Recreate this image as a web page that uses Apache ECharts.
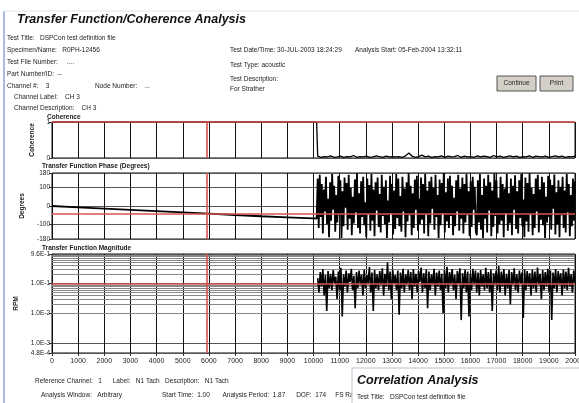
<!DOCTYPE html>
<html><head><meta charset="utf-8">
<script src="https://cdn.jsdelivr.net/npm/echarts@6/dist/echarts.min.js"></script>
<style>html,body{margin:0;padding:0;background:#fff}#c{width:579px;height:403px}</style>
</head><body><div id="c"></div>
<script>
// ---- data ----
const rampFreq = [0, 1000, 2000, 3000, 4000, 5000, 6000, 7000, 8000, 9000, 10000, 10120];
const coherenceRamp = [1, 1, 1, 1, 1, 1, 1, 1, 1, 1, 1, 0.99];
const phaseRamp = [0, -7, -14, -21, -28, -35, -42, -49, -56, -62, -68, -69];
const noiseStart = 10160, noiseEnd = 20000;
const coherenceNoise = [0.05,0.02,0.04,0.03,0.06,0.02,0.03,0.05,0.02,0.04,0.03,0.07,0.02,0.04,0.03,0.05,0.02,0.03,0.06,0.04,0.02,0.05,0.03,0.04,0.03,0.04,0.02,0.06,0.14,0.05,0.02,0.04,0.08,0.03,0.05,0.02,0.04,0.03,0.06,0.02,0.05,0.03,0.04,0.07,0.02,0.05,0.03,0.04,0.02,0.06,0.03,0.05,0.04,0.02,0.07,0.03,0.05,0.02,0.04,0.06,0.03,0.05,0.02,0.04,0.03,0.06,0.02,0.05,0.04,0.03,0.05,0.02,0.04,0.06,0.03,0.05,0.02,0.04,0.03,0.05];
const phaseNoiseA = [150,-120,170,-60,120,-150,90,-30,160,-100,40,-170,130,-80,175,-20,110,-140,60,-90,165,-50,140,-175,80,-110,155,-10,125,-130,170,-70,100,-160,50,-95,145,-35,178,-120,70,-150,135,-60,160,-105,20,-170,150,-45,115,-135,175,-80,90,-165,130,-25,155,-115,65,-145,170,-55,105,-100,140,-175,30,-90,165,-40,120,-155,85,-125,175,-65,150,-110,55,-140,160,-30,95,-170,130,-85,178,-50,110,-160,70,-120,145,-20,165,-135,40,-100,155,-75,120,-150,175,-45,85,-165,135,-95,160,-15,100,-130,170,-60,60,-175,145,-105,125,-40,178,-145,75,-85,150,-120,165,-55,110,-160,45,-110,140,-30,170,-135,95,-70,155,-150,120,-90,175,-50,80,-165,135,-115,160,-20,105,-140];
const phaseNoiseB = [-160,140,-90,175,-130,60,-175,150,-70,110,-145,170,-25,130,-165,85,-115,178,-55,140,-150,45,-100,160,-80,120,-170,95,-40,175,-135,70,-95,150,-160,110,-20,168,-125,80,-150,140,-65,175,-110,35,-170,155,-85,125,-140,178,-45,100,-160,65,-120,150,-30,170,-145,90,-75,160,-105,130,-175,50,-90,165,-60,145,-130,115,-15,172,-155,75,-100,140,-170,105,-50,160,-120,85,-145,175,-35,120,-165,60,-110,150,-80,135];
const magNoise = [0.15,0.05,0.24,0.08,0.3,0.04,0.19,0.012,0.26,0.07,0.21,0.06,0.28,0.1,0.17,0.03,0.25,0.06,0.33,0.008,
0.2,0.08,0.27,0.05,0.22,0.11,0.31,0.06,0.18,0.015,0.24,0.07,0.27,0.09,0.2,0.04,0.29,0.07,0.19,0.1,
0.35,0.05,0.23,0.012,0.28,0.07,0.2,0.06,0.26,0.09,0.32,0.04,0.21,0.08,0.5,0.06,0.25,0.03,0.29,0.1,
0.19,0.06,0.27,0.009,0.23,0.07,0.31,0.05,0.2,0.09,0.28,0.06,0.24,0.03,0.3,0.08,0.21,0.05,0.26,0.11,
0.34,0.05,0.22,0.07,0.29,0.015,0.25,0.06,0.2,0.09,0.31,0.04,0.23,0.08,0.27,0.06,0.21,0.01,0.28,0.07,
0.36,0.05,0.24,0.09,0.3,0.06,0.19,0.03,0.26,0.1,0.32,0.006,0.22,0.07,0.29,0.05,0.25,0.008,0.21,0.06,
0.31,0.09,0.27,0.05,0.23,0.04,0.28,0.08,0.2,0.06,0.33,0.07,0.24,0.05,0.29,0.012,0.22,0.09,0.27,0.06,
0.38,0.05,0.25,0.08,0.3,0.04,0.21,0.07,0.28,0.02,0.24,0.09,0.32,0.06,0.2,0.05,0.27,0.1,0.23,0.007,
0.3,0.06,0.26,0.08,0.22,0.04,0.29,0.07,0.25,0.05,0.34,0.09,0.21,0.03,0.28,0.06,0.24,0.08,0.31,0.05,
0.27,0.006,0.23,0.07,0.3,0.05,0.26,0.09,0.22,0.04,0.29,0.07,0.25,0.06,0.33,0.08,0.2,0.05,0.27,0.1];
const coherenceRef = 1, phaseRef = -40, magRef = 0.1, cursorFreq = 5900;
const phaseLabels = [180, 100, 0, -100, -180];
const magMin = 4.8e-4, magMax = 0.96;

// ---- build ----
function noisePairs(arr) {
  const n = arr.length;
  return arr.map((v, i) => [noiseStart + (noiseEnd - noiseStart) * i / (n - 1), v]);
}
const cohData = rampFreq.map((f, i) => [f, coherenceRamp[i]]).concat(noisePairs(coherenceNoise));
const phaseData = rampFreq.map((f, i) => [f, phaseRamp[i]]).concat(noisePairs(phaseNoiseA.concat(phaseNoiseB)));
const magData = noisePairs(magNoise);

const minorMag = [];
for (let e = -4; e <= -1; e++) {
  for (let k = 2; k <= 9; k++) {
    const v = k * Math.pow(10, e);
    if (v > magMin && v < magMax) minorMag.push({ yAxis: v });
  }
}

const FONT = '"Liberation Sans", Arial, sans-serif';
const grids = [
  { left: 52, top: 122, width: 523, height: 36 },
  { left: 52, top: 173, width: 523, height: 66 },
  { left: 52, top: 254, width: 523, height: 99 }
].map(g => Object.assign(g, { show: true, borderColor: '#111', borderWidth: 1, backgroundColor: '#fff',
  containLabel: false, outerBoundsMode: 'none' }));

function xAx(i, labels) {
  return {
    type: 'value', gridIndex: i, min: 0, max: 20000, interval: 1000,
    axisLine: { show: false },
    axisTick: { show: labels, length: 3, lineStyle: { color: '#333' } },
    axisLabel: { show: labels, fontSize: 7, fontFamily: FONT, color: '#222', margin: 5,
      showMaxLabel: true, hideOverlap: false, formatter: v => String(v) },
    splitLine: { show: true, lineStyle: { color: '#111', width: 1 } }
  };
}
const nameStyle = { fontSize: 6.5, fontWeight: 'bold', fontFamily: FONT, color: '#222' };
const yAxes = [
  {
    type: 'value', gridIndex: 0, min: 0, max: 1, interval: 0.1,
    name: 'Coherence', nameLocation: 'middle', nameRotate: 90, nameGap: 11, nameTextStyle: nameStyle,
    axisLine: { show: false },
    axisTick: { show: true, length: 3, customValues: [0, 1], lineStyle: { color: '#333' } },
    axisLabel: { fontSize: 6.5, fontFamily: FONT, color: '#222', margin: 2,
      formatter: v => (Math.abs(v) < 1e-9 ? '0' : Math.abs(v - 1) < 1e-9 ? '1' : '') },
    splitLine: { lineStyle: { color: '#555', width: 1 } }
  },
  {
    type: 'value', gridIndex: 1, min: -180, max: 180, interval: 20,
    name: 'Degrees', nameLocation: 'middle', nameRotate: 90, nameGap: 20, nameTextStyle: nameStyle,
    axisLine: { show: false },
    axisTick: { show: true, length: 3, customValues: phaseLabels, lineStyle: { color: '#333' } },
    axisLabel: { fontSize: 6.5, fontFamily: FONT, color: '#222', margin: 2,
      formatter: v => (phaseLabels.indexOf(Math.round(v)) >= 0 ? String(Math.round(v)) : '') },
    splitLine: { lineStyle: { color: '#555', width: 1 } }
  },
  {
    type: 'log', logBase: 10, gridIndex: 2, min: magMin, max: magMax,
    name: 'RPM', nameLocation: 'middle', nameRotate: 90, nameGap: 28, nameTextStyle: nameStyle,
    axisLine: { show: false },
    axisTick: { show: true, length: 3, lineStyle: { color: '#333' } },
    axisLabel: { fontSize: 6.5, fontFamily: FONT, color: '#222', margin: 2, showMinLabel: true, showMaxLabel: true,
      formatter: v => Number(v).toExponential(1).toUpperCase() },
    splitLine: { lineStyle: { color: '#555', width: 1 } }
  }
];

const red = '#d9534f';
function refLines(yv) {
  return {
    silent: true, symbol: 'none', label: { show: false },
    lineStyle: { color: red, width: 1.6, type: 'solid' },
    data: [{ yAxis: yv }, { xAxis: cursorFreq }]
  };
}

const series = [
  { type: 'line', xAxisIndex: 0, yAxisIndex: 0, data: cohData, showSymbol: false, z: 3,
    lineStyle: { color: '#000', width: 1.3 }, animation: false, markLine: refLines(coherenceRef) },
  { type: 'line', xAxisIndex: 1, yAxisIndex: 1, data: phaseData, showSymbol: false, z: 3,
    lineStyle: { color: '#000', width: 1.8 }, animation: false, markLine: refLines(phaseRef) },
  { type: 'line', xAxisIndex: 2, yAxisIndex: 2, data: [], showSymbol: false, z: 1, animation: false,
    markLine: { silent: true, symbol: 'none', label: { show: false }, z: 1,
      lineStyle: { color: '#888', width: 1, type: 'solid' }, data: minorMag } },
  { type: 'line', xAxisIndex: 2, yAxisIndex: 2, data: magData, showSymbol: false, z: 3,
    lineStyle: { color: '#000', width: 1.6 }, animation: false, markLine: refLines(magRef) }
];

function txt(x, y, s, size, opts) {
  opts = opts || {};
  return { type: 'text', x: x, y: y, z: opts.z || 10,
    style: { text: s, fill: opts.fill || '#222', align: opts.align || 'left', verticalAlign: 'middle',
      font: (opts.italic ? 'italic ' : '') + (opts.bold ? 'bold ' : '') + size + 'px ' + FONT } };
}
const S = 6.5;
const graphic = [
  { type: 'line', shape: { x1: 4, y1: 11, x2: 4, y2: 403 }, style: { stroke: '#8fa3d6', lineWidth: 1.5 }, z: 5 },
  { type: 'line', shape: { x1: 4, y1: 11, x2: 579, y2: 11 }, style: { stroke: '#dfe4ee', lineWidth: 1 }, z: 5 },
  txt(17, 20, 'Transfer Function/Coherence Analysis', 12.5, { bold: true, italic: true, fill: '#111' }),
  txt(7, 38, 'Test Title:   DSPCon test definition file', S),
  txt(7, 50, 'Specimen/Name:   R0PH-12456', S),
  txt(7, 62, 'Test File Number:     ....', S),
  txt(7, 74, 'Part Number/ID:  --', S),
  txt(7, 86, 'Channel #:    3', S),
  txt(95, 86, 'Node Number:    ...', S),
  txt(14, 97, 'Channel Label:    CH 3', S),
  txt(14, 108, 'Channel Description:    CH 3', S),
  txt(230, 50, 'Test Date/Time: 30-JUL-2003 18:24:29', S),
  txt(355, 50, 'Analysis Start: 05-Feb-2004 13:32:11', S),
  txt(230, 65, 'Test Type: acoustic', S),
  txt(230, 79, 'Test Description:', S),
  txt(230, 89, 'For Strather', S),
  { type: 'rect', shape: { x: 497, y: 76, width: 39, height: 15 }, style: { fill: '#d4d0c8', stroke: '#555', lineWidth: 1 }, z: 10 },
  txt(516.5, 83.5, 'Continue', S, { align: 'center', z: 11 }),
  { type: 'rect', shape: { x: 540, y: 76, width: 33, height: 15 }, style: { fill: '#d4d0c8', stroke: '#555', lineWidth: 1 }, z: 10 },
  txt(556.5, 83.5, 'Print', S, { align: 'center', z: 11 }),
  txt(47, 117, 'Coherence', S, { bold: true }),
  txt(42, 166, 'Transfer Function Phase (Degrees)', S, { bold: true }),
  txt(42, 248, 'Transfer Function Magnitude', S, { bold: true }),
  txt(35, 381, 'Reference Channel:   1      Label:   N1 Tach   Description:   N1 Tach', S),
  txt(41, 395, 'Analysis Window:   Arbitrary', S),
  txt(162, 395, 'Start Time:  1.00       Analysis Period:  1.87      DOF:  174     FS Range', S),
  { type: 'rect', shape: { x: 352, y: 368, width: 232, height: 40 }, style: { fill: '#fff', stroke: '#b8c0d4', lineWidth: 1 }, z: 20 },
  txt(357, 381, 'Correlation Analysis', 12.5, { bold: true, italic: true, fill: '#111', z: 21 }),
  txt(357, 397, 'Test Title:   DSPCon test definition file', S, { z: 21 })
];

const chart = echarts.init(document.getElementById('c'), null, { renderer: 'canvas' });
chart.setOption({
  backgroundColor: '#fff',
  animation: false,
  grid: grids,
  xAxis: [xAx(0, false), xAx(1, false), xAx(2, true)],
  yAxis: yAxes,
  series: series,
  graphic: graphic
});
</script>
</body></html>
